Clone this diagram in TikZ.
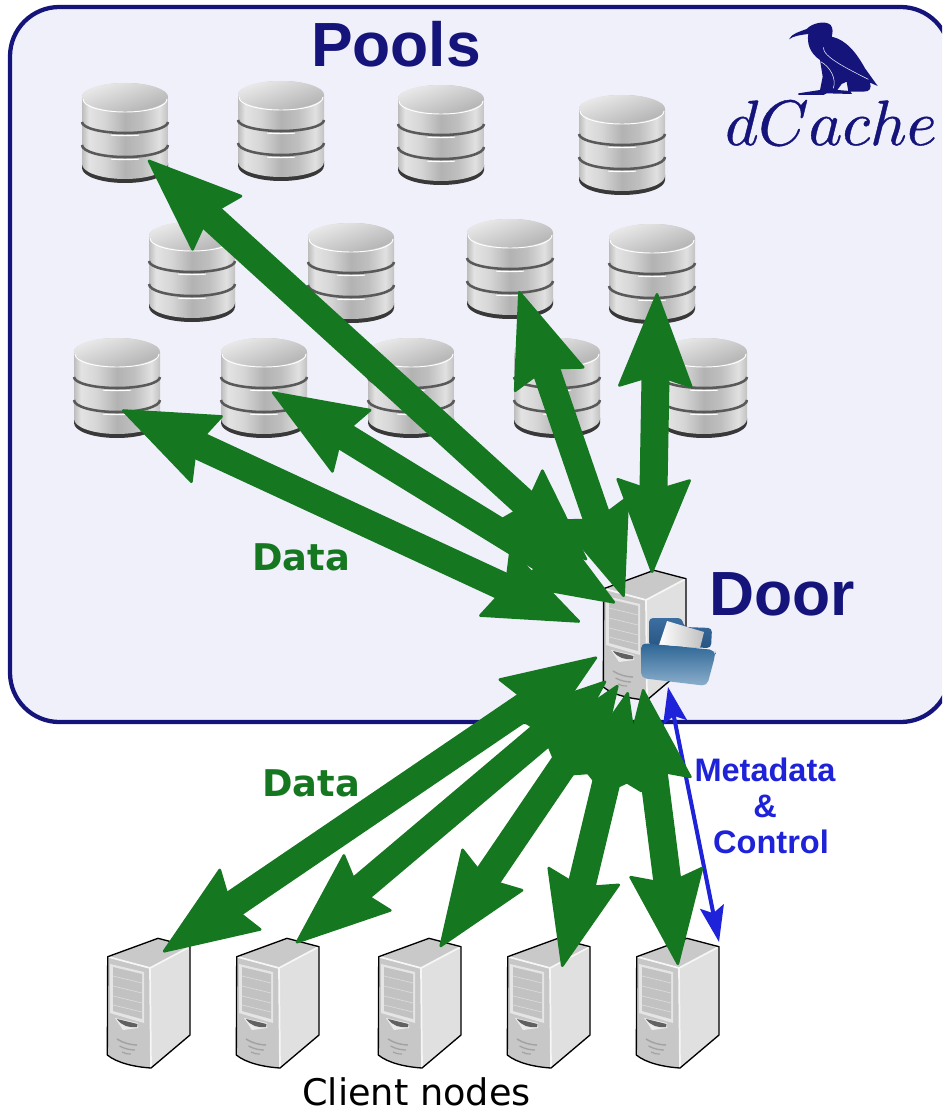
\documentclass[tikz,border=0pt]{standalone}
\usepackage{fontspec}
\setmainfont{Liberation Sans}
\newfontfamily\djv{DejaVu Sans}
\usetikzlibrary{arrows.meta}
\definecolor{navyc}{HTML}{14147A}
\definecolor{panelc}{HTML}{F0F0FB}
\definecolor{greenc}{HTML}{157820}
\definecolor{bluec}{HTML}{1E22D8}
\pgfdeclarehorizontalshading{dbside}{100bp}{rgb(0bp)=(.74,.74,.74);rgb(25bp)=(.74,.74,.74);rgb(29bp)=(.89,.89,.89);rgb(38bp)=(.84,.84,.84);rgb(50bp)=(.70,.70,.70);rgb(60bp)=(.75,.75,.75);rgb(70bp)=(.88,.88,.88);rgb(75bp)=(.76,.76,.76);rgb(100bp)=(.76,.76,.76)}
\tikzset{
  dbband/.style={draw=black!65,line width=1.9pt},
  dbglint/.style={draw=white,line width=.7pt},
  srvedge/.style={draw=black,line width=1pt,line join=round},
  srvlight/.style={draw=white!93!gray,line width=1.3pt},
  datalink/.style={draw=greenc,line width=21pt,
    {Stealth[round,length=73pt,width=57pt,inset=9pt,line width=2pt]}-{Stealth[round,length=73pt,width=57pt,inset=9pt,line width=2pt]}},
  ctrllink/.style={draw=bluec,line width=3pt,
    {Stealth[length=27pt,width=18pt,inset=5pt]}-{Stealth[length=27pt,width=18pt,inset=5pt]}},
  lbl/.style={inner sep=0pt,anchor=base},
  db/.pic={
    \fill[black!78] (-43,80) -- (-43,85) .. controls (-43,93.3) and (-23.7,100) .. (0,100) .. controls (23.7,100) and (43,93.3) .. (43,85) -- (43,80) -- cycle;
    \shade[shading=dbside] (-43,14) -- (-43,81) .. controls (-43,89.3) and (-23.7,96) .. (0,96) .. controls (23.7,96) and (43,89.3) .. (43,81) -- (43,14) .. controls (43,6.3) and (23.7,0) .. (0,0) .. controls (-23.7,0) and (-43,6.3) .. (-43,14) -- cycle;
    \shade[top color=black!8,bottom color=black!30,shading angle=20] (0,14) ellipse[x radius=43,y radius=14];
    \draw[dbglint] (-42,16) .. controls (-42,23.7) and (-23,29) .. (0,29) .. controls (23,29) and (42,23.7) .. (42,16);
    \draw[dbband] (-43,39) .. controls (-43,45) and (-23.7,50) .. (0,50) .. controls (23.7,50) and (43,45) .. (43,39);
    \draw[dbglint] (-14,52.2) .. controls (-5,52.8) and (5,52.8) .. (14,52.2);
    \draw[dbband] (-43,62) .. controls (-43,68.6) and (-23.7,74) .. (0,74) .. controls (23.7,74) and (43,68.6) .. (43,62);
    \draw[dbglint] (-14,76.2) .. controls (-5,76.8) and (5,76.8) .. (14,76.2);
  },
  server/.pic={
    \fill[black!21] (0.7,18.7) -- (51,0.3) -- (83,8.7) -- (43,30) -- cycle;
    \fill[black!12] (43,30) -- (83,8.7) -- (83,97) -- (44,130) -- cycle;
    \fill[black!22] (0.7,18.7) -- (43,30) -- (44,130) .. controls (28,129) and (10,125) .. (0.3,117) -- cycle;
    \draw[srvlight] (0.7,18.7) -- (43,30) -- (83,8.7);
    \draw[srvlight] (43,30) -- (44,130);
    \fill[black!10] (3,26) -- (37,34) -- (37,85) -- (3,75) -- cycle;
    \fill[black!24] (6,29) -- (35,36) -- (35,81) -- (6,73) -- cycle;
    \foreach \a/\b in {38/45,48/55,58/65,67/74}{\draw[black!14,line width=.5pt] (6,\a) -- (35,\b);}
    \fill[black!8] (8,80) -- (31,85) -- (31,90) -- (16,92) -- cycle;
    \fill[black!62] (10,81) -- (30.5,86) -- (30,89) .. controls (22,90) and (15,88) .. (10,81) -- cycle;
    \draw[black!36,line width=1.1pt] (10,101) .. controls (16,105) and (24,107) .. (30,107);
    \draw[black!36,line width=1pt] (12.5,108) .. controls (18,111) and (24,112) .. (28,112);
    \draw[black!36,line width=.9pt] (15,114) .. controls (18,116) and (21,116) .. (24,116);
    \draw[srvedge] (0.7,18.7) -- (51,0.3) -- (83,8.7) -- (83,97) -- (44,130) .. controls (28,129) and (10,125) .. (0.3,117) -- cycle;
  }
}
\begin{document}
\begin{tikzpicture}[x=0.75pt,y=-0.75pt]
\useasboundingbox (0,0) rectangle (942,1112);
\begin{scope}
\clip (0,0) rectangle (942,1112);
\draw[navyc,fill=panelc,line width=3.2pt,rounded corners=37pt] (10,7) rectangle (950,722);
\end{scope}
% pools
\foreach \px/\py in {125/83,281/81,441/85,622/95,192/222,351/223,510/219,652/224,117/338,264/338,411/338,557/338,704/338}{
  \pic at (\px,\py) {db};
}
% door
\pic at (603,570) {server};
% folder
\shade[top color={rgb,255:red,60;green,110;blue,160},bottom color={rgb,255:red,40;green,85;blue,130},rounded corners=3pt] (649,618) -- (682,618) -- (684,627) -- (712,628) -- (711,648) -- (649,646) -- cycle;
\shade[left color=white,right color=black!25] (659,645) -- (667,621) -- (704,632) -- (700,648) -- cycle;
\shade[top color={rgb,255:red,44;green,100;blue,148},bottom color={rgb,255:red,140;green,175;blue,205},rounded corners=4pt] (641,643) -- (715,650) -- (715,656) -- (707,686) -- (641,678) -- cycle;
% clients
\foreach \cx in {107,236,378,507,636}{
  \pic at (\cx,938) {server};
}
% logo
\begin{scope}[shift={(700,10)},x=0.25pt,y=-0.25pt]
\fill[navyc] (267,88) .. controls (275,70) and (300,65) .. (320,57) .. controls (335,40) and (375,30) .. (392,45) .. controls (400,55) and (398,70) .. (395,80) .. controls (440,90) and (470,130) .. (495,175) -- (533,228) -- (510,218) .. controls (515,235) and (510,245) .. (490,245) -- (445,245) -- (440,215) -- (425,222) -- (412,240) -- (450,243) -- (456,252) -- (380,250) -- (370,255) -- (295,255) -- (295,250) -- (360,240) -- (368,200) -- (360,150) .. controls (330,130) and (320,100) .. (325,72) .. controls (300,75) and (280,78) .. (267,88) -- cycle;
\draw[panelc,line width=.4pt] (370,112) .. controls (368,140) and (440,175) .. (505,208);
\draw[panelc,line width=.4pt] (362,155) .. controls (390,170) and (410,205) .. (400,235);
\end{scope}
% anchor coordinates
\coordinate (poolA) at (148,160);
\coordinate (poolB) at (122,410);
\coordinate (poolC) at (272,392);
\coordinate (poolD) at (519,291);
\coordinate (poolE) at (657,293);
\coordinate (doorA) at (587,560);
\coordinate (doorB) at (580,622);
\coordinate (doorC) at (615,603);
\coordinate (doorD) at (624,597);
\coordinate (doorE) at (652,573);
\coordinate (doorF) at (597,657);
\coordinate (doorG) at (606,681);
\coordinate (doorH) at (618,685);
\coordinate (doorI) at (628,692);
\coordinate (doorJ) at (643,689);
\coordinate (doorK) at (668,687);
\coordinate (cliA) at (163,952);
\coordinate (cliB) at (296,943);
\coordinate (cliC) at (440,947);
\coordinate (cliD) at (562,967);
\coordinate (cliE) at (678,965);
\coordinate (cliF) at (719,942);
% connectors
\draw[ctrllink] (doorK) -- (cliF);
\draw[datalink] (poolE) -- (doorE);
\draw[datalink] (poolD) -- (doorD);
\draw[datalink] (poolA) -- (doorA);
\draw[datalink] (poolC) -- (doorC);
\draw[datalink] (poolB) -- (doorB);
\draw[datalink] (doorF) -- (cliA);
\draw[datalink] (doorG) -- (cliB);
\draw[datalink] (doorH) -- (cliC);
\draw[datalink] (doorI) -- (cliD);
\draw[datalink] (doorJ) -- (cliE);
% labels
\node[lbl,text=navyc,font=\fontsize{46.8}{47}\selectfont\bfseries] (pools) at (396,67) {Pools};
\node[lbl,text=navyc,font=\fontsize{46.8}{47}\selectfont\bfseries] (door) at (782,615) {Door};
\node[lbl,text=navyc,scale=4.8] (logo) at (831,145) {\special{pdf:code 2 Tr 0.06 w}$dCache$\special{pdf:code 0 Tr}};
\node[lbl,text=greenc,font=\djv\fontsize{27.6}{28}\selectfont\bfseries] (data1) at (301,570) {Data};
\node[lbl,text=greenc,font=\djv\fontsize{27.6}{28}\selectfont\bfseries] (data2) at (311,796) {Data};
\node[lbl,text=bluec,font=\fontsize{24.4}{25}\selectfont\bfseries] (meta) at (765,781) {Metadata};
\node[lbl,text=bluec,font=\fontsize{24.4}{25}\selectfont\bfseries] (amp) at (765,817) {\&};
\node[lbl,text=bluec,font=\fontsize{24.4}{25}\selectfont\bfseries] (ctrl) at (771,853) {Control};
\node[lbl,font=\djv\fontsize{27.5}{28}\selectfont] (clients) at (416.5,1105) {Client nodes};
\end{tikzpicture}
\end{document}
